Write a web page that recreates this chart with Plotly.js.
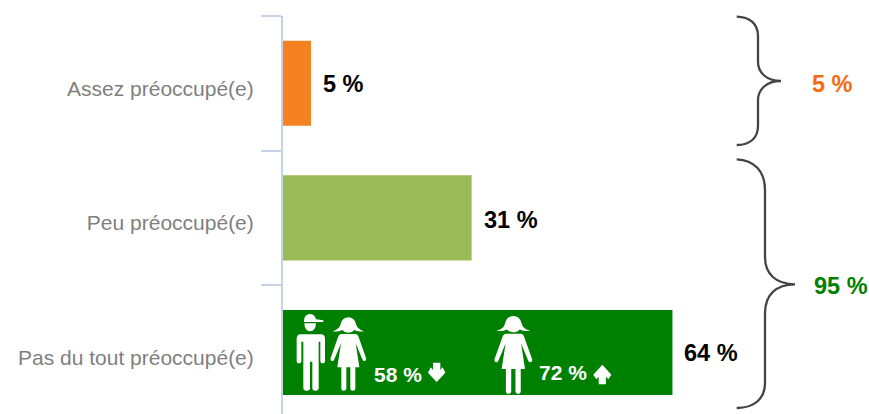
<!DOCTYPE html>
<html><head><meta charset="utf-8">
<script src="https://cdn.plot.ly/plotly-3.0.1.min.js"></script>
<style>html,body{margin:0;padding:0;background:#fff}</style>
</head><body><div id="chart" style="width:869px;height:414px"></div>
<script>
const categories = ["Pas du tout préoccupé(e)", "Peu préoccupé(e)", "Assez préoccupé(e)"];
const values = [64, 31, 4.6];
const valueLabels = ["64 %", "31 %", "5 %"];
const barColors = ["#008000", "#9BBB59", "#F58220"];
const groupLabels = ["5 %", "95 %"];
const groupColors = ["#F86A10", "#008000"];
const insideLabels = ["58 %", "72 %"];

const W = 869, H = 414, L = 283, T = 16;
const FONT = "Liberation Sans, Arial, sans-serif";
const px = x => (x - L) / (W - L);
const py = y => 1 - (y - T) / (H - T);
// maps "x,y" pairs in a path template through a coordinate function
function mapPath(s, f) {
  return s.replace(/(-?[\d.]+),(-?[\d.]+)/g, (m, a, b) => {
    const p = f(+a, +b);
    return px(p[0]).toFixed(5) + "," + py(p[1]).toFixed(5);
  });
}
const identity = (x, y) => [x, y];
const zoomed = (x, y) => [270 + x / 3, 290 + y / 3];
function girlAt(cx, top, k) { return (x, y) => zoomed(cx + x * k, top + y * k); }

const bracePaths = [
 "M736.7,16.7 C750,17 758,24 758,36 L758,62 C758,72 766,81 781,81 C766,81 758,90 758,100 L758,126 C758,138 750,145 736.7,145",
 "M736.7,159.3 C754,160 765,171 765,190 L765,257 C765,274 776,284.3 795,284.3 C776,284.3 765,295 765,313 L765,383 C765,399 754,408 736.7,408"
];
const girlHair = "M-47,42 Q-26,36 -23,20 Q-18,0 0,0 Q18,0 23,20 Q26,36 47,42 Q30,44 18,38 Q12,46 0,46 Q-12,46 -18,38 Q-30,44 -47,42 Z";
const girlBody = "M-20,50 L20,50 Q27,50 30,57 L53,122 Q55,130 48,131 Q44,132 42,126 L22,78 L33,150 L21,150 L21,212 Q21,220 14,220 Q6,220 6,212 L6,150 L-6,150 L-6,212 Q-6,220 -14,220 Q-21,220 -21,212 L-21,150 L-33,150 L-22,78 L-42,126 Q-44,132 -48,131 Q-55,130 -53,122 L-30,57 Q-27,50 -20,50 Z";
const manPaths = [
 "M102,92 Q103,73 120,72 Q135,73 138,88 L160,91 L160,96 L102,96 Z",
 "M103,100 L138,100 Q137,123 120,124 Q104,123 103,100 Z",
 "M92,133 L152,133 Q165,133 165,146 L165,212 Q165,220 158,220 Q151,220 151,212 L151,155 L146,155 L146,295 Q146,302 136,302 Q127,302 127,295 L127,215 L120,215 L120,295 Q120,302 110,302 Q100,302 100,295 L100,155 L94,155 L94,212 Q94,220 87,220 Q80,220 80,212 L80,146 Q80,133 92,133 Z"
];
const arrowDown = "M489,218 L511,218 L511,240 L518,232 L526,248 L500,276 L474,248 L482,232 L489,240 Z";
const arrowUp = "M997,224 L1024,254 L1015,268 L1008,260 L1008,283 L986,283 L986,260 L979,268 L970,254 Z";

const shapes = [];
const addLine = d => shapes.push({type:"path", xref:"paper", yref:"paper", path:d, line:{color:"#444444", width:2.3}, fillcolor:"rgba(0,0,0,0)"});
const addFill = d => shapes.push({type:"path", xref:"paper", yref:"paper", path:d, line:{width:0}, fillcolor:"#ffffff"});
bracePaths.forEach(d => addLine(mapPath(d, identity)));
manPaths.forEach(d => addFill(mapPath(d, zoomed)));
[[235, 82, 1], [730, 78, 1.06]].forEach(g => {
  addFill(mapPath(girlHair, girlAt(g[0], g[1], g[2])));
  addFill(mapPath(girlBody, girlAt(g[0], g[1], g[2])));
});
addFill(mapPath(arrowDown, zoomed));
addFill(mapPath(arrowUp, zoomed));

const labelYs = [353, 220, 84];
const labelOffset = [10, 10, 10];
const annotations = [];
categories.forEach((c, i) => annotations.push({
  xref:"x", yref:"paper", x:values[i], y:py(labelYs[i]), xshift:labelOffset[i], xanchor:"left", yanchor:"middle",
  showarrow:false, text:"<b>" + valueLabels[i] + "</b>", font:{family:FONT, size:23.5, color:"#000"}
}));
[[810, 84], [812, 286]].forEach((p, i) => annotations.push({
  xref:"paper", yref:"paper", x:px(p[0]), y:py(p[1]), xanchor:"left", yanchor:"middle",
  showarrow:false, text:"<b>" + groupLabels[i] + "</b>", font:{family:FONT, size:23.5, color:groupColors[i]}
}));
[[372, 374], [537, 372]].forEach((p, i) => annotations.push({
  xref:"paper", yref:"paper", x:px(p[0]), y:py(p[1]), xanchor:"left", yanchor:"middle",
  showarrow:false, text:"<b>" + insideLabels[i] + "</b>", font:{family:FONT, size:21, color:"#fff"}
}));

Plotly.newPlot("chart", [{
  type:"bar", orientation:"h", y:categories, x:values,
  marker:{color:barColors, line:{width:0}}, hoverinfo:"skip"
}], {
  width:W, height:H, showlegend:false,
  paper_bgcolor:"#fff", plot_bgcolor:"#fff",
  margin:{l:L, r:0, t:T, b:0, pad:0},
  bargap:0.368,
  xaxis:{range:[0, 96.3], visible:false, fixedrange:true},
  yaxis:{type:"category", categoryorder:"array", categoryarray:categories, range:[-0.457, 2.5],
    showline:true, linecolor:"#C5D3E6", linewidth:2, showgrid:false, zeroline:false,
    ticks:"outside", tickson:"boundaries", ticklen:20, tickwidth:2, tickcolor:"#C5D3E6",
    ticklabelstandoff:23, ticklabelshift:5, tickfont:{family:FONT, size:21, color:"#7F7F7F"}, fixedrange:true},
  shapes:shapes, annotations:annotations
}, {displayModeBar:false, staticPlot:true});
</script></body></html>
